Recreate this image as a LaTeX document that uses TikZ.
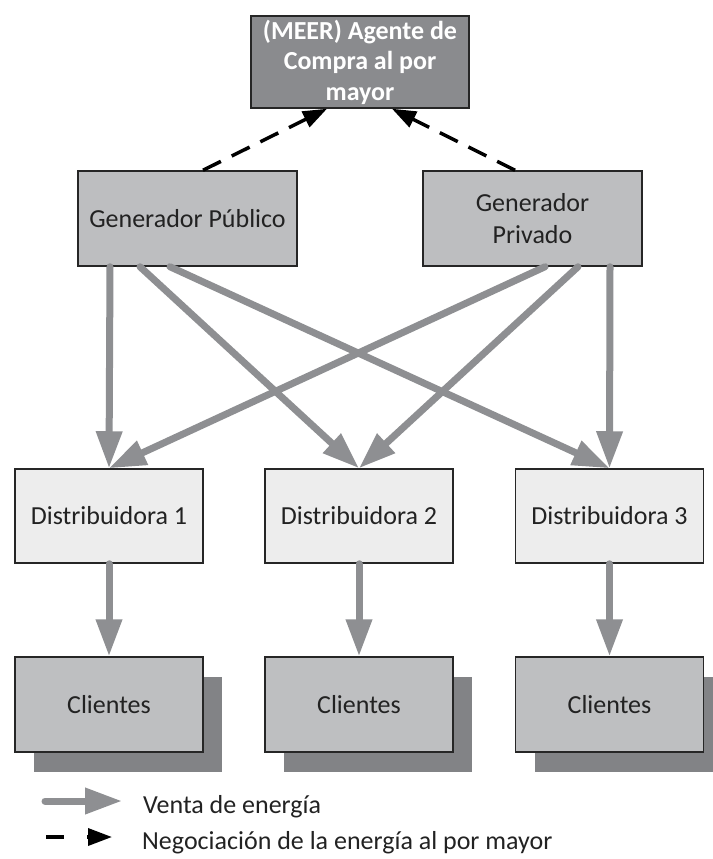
\documentclass[tikz,border=0pt]{standalone}
\usepackage{fontspec}
\setmainfont{Carlito}
\usetikzlibrary{arrows.meta,calc,shadows}

\definecolor{meerfill}{HTML}{8A8B8E}
\definecolor{genfill}{HTML}{BDBEC0}
\definecolor{distfill}{HTML}{EDEDED}
\definecolor{clifill}{HTML}{BEBFC1}
\definecolor{shadowgray}{HTML}{828386}
\definecolor{salegray}{HTML}{8E8F92}
\definecolor{boxline}{HTML}{262626}
\definecolor{textdark}{HTML}{222222}

\begin{document}
\begin{tikzpicture}[x=1pt,y=-1pt,
  box/.style={draw=boxline, line width=1.5pt, rectangle, inner sep=0pt,
    align=center, text=textdark, font=\fontsize{26}{32}\selectfont},
  meerbox/.style={box, fill=meerfill, text=white,
    font=\fontsize{26}{30.5}\selectfont\bfseries,
    minimum width=218pt, minimum height=92pt},
  genbox/.style={box, fill=genfill, minimum width=219pt, minimum height=95pt},
  distbox/.style={box, fill=distfill, minimum width=188pt, minimum height=94pt},
  clibox/.style={box, fill=clifill, minimum width=188pt, minimum height=95pt,
    drop shadow={shadow xshift=19pt, shadow yshift=-20pt, fill=shadowgray, opacity=1}},
  sale/.style={draw=salegray, line width=7pt, line cap=round,
    -{Triangle[length=37pt,width=25pt]}},
  nego/.style={draw=black, line width=3.5pt, dash pattern=on 20pt off 12pt,
    -{Triangle[length=24pt,width=17pt]}},
  legendtext/.style={anchor=base west, inner sep=0pt, text=textdark,
    font=\fontsize{26}{32}\selectfont}
]
\useasboundingbox (0,0) rectangle (712,859);

% top: wholesale buyer
\node[meerbox] (meer) at (360,62) {(MEER) Agente de\\Compra al por\\mayor};

% generators
\node[genbox] (gpub) at (187.5,218.5) {Generador Público};
\node[genbox] (gpriv) at (532.5,218.5) {Generador\\Privado};

% distributors
\node[distbox] (d1) at (109,516) {Distribuidora 1};
\node[distbox] (d2) at (359,516) {Distribuidora 2};
\node[distbox] (d3) at (609.5,516) {Distribuidora 3};

% customers
\node[clibox] (c1) at (109,704.5) {Clientes};
\node[clibox] (c2) at (359,704.5) {Clientes};
\node[clibox] (c3) at (609.5,704.5) {Clientes};

% wholesale negotiation
\draw[nego] ($(gpub.north)+(15.5,0)$) -- ($(meer.south)+(-33,0)$);
\draw[nego] ($(gpriv.north)+(-17.5,0)$) -- ($(meer.south)+(32,0)$);

% energy sales: generators to distributors
\draw[sale] ($(gpub.south)+(-77.5,0)$) -- (d1.north);
\draw[sale] ($(gpub.south)+(-47.5,0)$) -- (d2.north);
\draw[sale] ($(gpub.south)+(-17.5,0)$) -- (d3.north);
\draw[sale] ($(gpriv.south)+(12.5,0)$) -- (d1.north);
\draw[sale] ($(gpriv.south)+(45.5,0)$) -- (d2.north);
\draw[sale] ($(gpriv.south)+(77.5,0)$) -- (d3.north);

% energy sales: distributors to customers
\draw[sale] (d1.south) -- (c1.north);
\draw[sale] (d2.south) -- (c2.north);
\draw[sale] (d3.south) -- (c3.north);

% legend
\coordinate (lsa) at (45,801);
\coordinate (lsb) at (122,801);
\draw[sale] (lsa) -- (lsb);
\node[legendtext] (lst) at (143,813) {Venta de energía};

\coordinate (lna) at (46,837);
\coordinate (lnb) at (112,837);
\draw[nego, dash pattern=on 18pt off 23pt] (lna) -- (lnb);
\node[legendtext] (lnt) at (142,849) {Negociación de la energía al por mayor};
\end{tikzpicture}
\end{document}
